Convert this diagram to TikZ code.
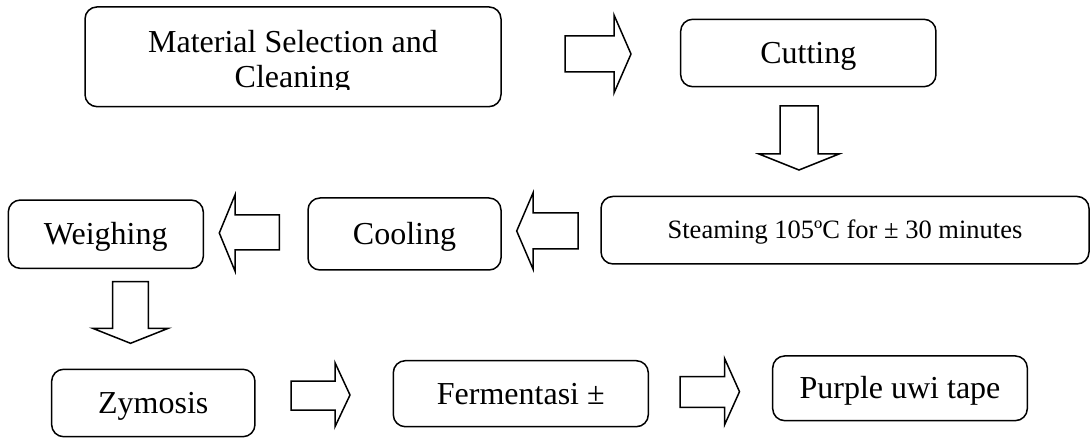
\documentclass[tikz,border=0pt]{standalone}
\usepackage{fontspec}
\setmainfont{Liberation Serif}
\begin{document}
\begin{tikzpicture}[x=1pt,y=-1pt,
  box/.style={draw, line width=1.5pt, rounded corners=12pt, inner sep=0pt,
    font=\fontsize{32}{38}\selectfont, text height=21pt, text depth=0pt},
  smallbox/.style={box, font=\fontsize{26.5}{32}\selectfont, text height=17.5pt},
  lbl/.style={inner sep=0pt, anchor=base, font=\fontsize{32}{38}\selectfont},
  blockarrow/.style={draw, line width=1.5pt, line join=miter, fill=white}]
\useasboundingbox (0,0) rectangle (1090,438);
% boxes
\node[box, minimum width=416pt, minimum height=99.7pt] (mat) at (293,56.8) {};
\begin{scope}
  \clip (85,7) rectangle (501,90);
  \node[lbl] (matA) at (293,52.7) {Material Selection and};
  \node[lbl] (matB) at (292.5,87.3) {Cleaning};
\end{scope}
\node[box, minimum width=255.3pt, minimum height=67.4pt] (cut) at (808.3,53) {Cutting};
\node[smallbox, minimum width=488pt, minimum height=67.5pt] (steam) at (845,230.2) {Steaming 105ºC for ± 30 minutes};
\node[box, minimum width=193pt, minimum height=72pt] (cool) at (404.5,234) {Cooling};
\node[box, minimum width=195pt, minimum height=68.3pt] (weigh) at (105.8,234.2) {Weighing};
\node[box, minimum width=203.3pt, minimum height=67.4pt] (zym) at (153.3,403) {Zymosis};
\node[box, minimum width=255pt, minimum height=66pt] (ferm) at (520.8,393.7) {Fermentasi ±};
\node[box, minimum width=254.6pt, minimum height=64.7pt] (purp) at (900,388.3) {Purple uwi tape};
% block arrows
% right: Material -> Cutting
\draw[blockarrow] (565,36) -- (614,36) -- (614,15) -- (631,54) -- (614,93) -- (614,72) -- (565,72) -- cycle;
% down: Cutting -> Steaming
\draw[blockarrow] (780,106) -- (818,106) -- (818,154) -- (839,154) -- (799,170) -- (759,154) -- (780,154) -- cycle;
% left: Steaming -> Cooling
\draw[blockarrow] (578,213) -- (533,213) -- (533,193) -- (516.7,231) -- (533,269) -- (533,249) -- (578,249) -- cycle;
% left: Cooling -> Weighing
\draw[blockarrow] (279.3,215) -- (235,215) -- (235,195) -- (219.3,233) -- (235,271) -- (235,250) -- (279.3,250) -- cycle;
% down: Weighing -> Zymosis
\draw[blockarrow] (112.7,281.7) -- (148.3,281.7) -- (148.3,328.3) -- (168.3,328.3) -- (130.5,343.3) -- (92.7,328.3) -- (112.7,328.3) -- cycle;
% right: Zymosis -> Fermentasi
\draw[blockarrow] (291,381) -- (335,381) -- (335,362.7) -- (350,395) -- (335,426.7) -- (335,410) -- (291,410) -- cycle;
% right: Fermentasi -> Purple uwi tape
\draw[blockarrow] (680,376.7) -- (724.5,376.7) -- (724.5,358.3) -- (739.5,391.7) -- (724.5,425) -- (724.5,407.3) -- (680,407.3) -- cycle;
\end{tikzpicture}
\end{document}
